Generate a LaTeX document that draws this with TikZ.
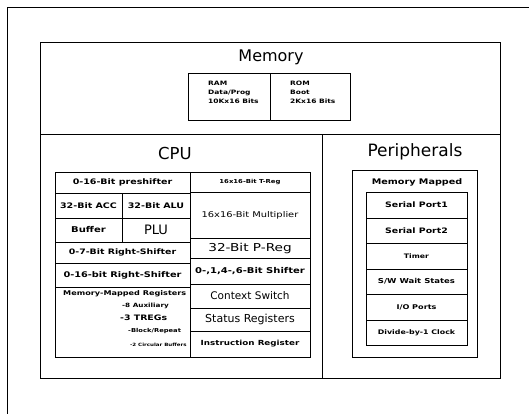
\documentclass[tikz,border=0pt]{standalone}
\usepackage{fontspec}
\setmainfont{DejaVu Sans}
\newfontfamily\plotfont[FakeStretch=1.25]{DejaVu Sans}
\newfontfamily\plainfont{DejaVu Sans}
\tikzset{
  cell/.style={draw, line width=0.9pt, inner sep=0pt, outer sep=0pt},
  bt/.style={font=\plotfont\bfseries\fontsize{#1}{#1}\selectfont, inner sep=0pt},
  rt/.style={font=\plotfont\fontsize{#1}{#1}\selectfont, inner sep=0pt},
  ru/.style={font=\plainfont\fontsize{#1}{#1}\selectfont, inner sep=0pt},
}
\newcommand\bxc[7]{%
  \pgfmathsetmacro\bxw{#4-#2}\pgfmathsetmacro\bxh{#5-#3}%
  \pgfmathsetmacro\bxx{(#2+#4)/2}\pgfmathsetmacro\bxy{(#3+#5)/2}%
  \node[cell, minimum width=\bxw pt, minimum height=\bxh pt, #6] (#1) at (\bxx,\bxy) {#7};}
\begin{document}
\begin{tikzpicture}[x=1pt,y=-1pt]
\useasboundingbox (0,0) rectangle (529,414);
% outer frame
\coordinate (fbl) at (7,414);
\coordinate (ftr) at (529,8);
\draw[line width=1pt] (fbl) |- (ftr);
% main sections
\bxc{mem}{40}{43}{500}{135}{line width=1pt}{}
\bxc{cpu}{40}{135}{322}{378}{line width=1pt}{}
\bxc{per}{322}{135}{500}{378}{line width=1pt}{}
% titles
\node[ru=16, anchor=base] (tmem) at (271,62) {Memory};
\node[ru=16.5, anchor=base] (tcpu) at (175,160) {CPU};
\node[ru=17, anchor=base] (tper) at (415,157) {Peripherals};
% RAM / ROM
\bxc{ram}{188}{73}{270}{120}{}{}
\bxc{rom}{270}{73}{350}{120}{}{}
\node[bt=6, anchor=base west] (ram1) at (208,86) {RAM};
\node[bt=6, anchor=base west] (ram2) at (208,95) {Data/Prog};
\node[bt=6, anchor=base west] (ram3) at (208,103.5) {10Kx16 Bits};
\node[bt=6, anchor=base west] (rom1) at (290,86) {ROM};
\node[bt=6, anchor=base west] (rom2) at (290,95) {Boot};
\node[bt=6, anchor=base west] (rom3) at (290,103.5) {2Kx16 Bits};
% CPU left column
\bxc{pre}{55}{172}{190}{193}{bt=7.6}{0-16-Bit preshifter}
\bxc{acc}{55}{193}{122}{218}{bt=7.6}{32-Bit ACC}
\bxc{alu}{122}{193}{190}{218}{bt=7.6}{32-Bit ALU}
\bxc{buf}{55}{218}{122}{242}{bt=8}{Buffer}
\bxc{plu}{122}{218}{190}{242}{ru=13}{PLU}
\bxc{rsa}{55}{242}{190}{263}{bt=7.5}{0-7-Bit Right-Shifter}
\bxc{rsb}{55}{263}{190}{287}{bt=7.8}{0-16-bit Right-Shifter}
\bxc{mmr}{55}{287}{190}{357}{}{}
\node[bt=6.5, anchor=base west] (mm1) at (63,295) {Memory-Mapped Registers};
\node[bt=5.8, anchor=base west] (mm2) at (122,307) {-8 Auxiliary};
\node[bt=7.5, anchor=base west] (mm3) at (120,320) {-3 TREGs};
\node[bt=5.4, anchor=base west] (mm4) at (128,332) {-Block/Repeat};
\node[bt=4.4, anchor=base west] (mm5) at (130,346) {-2 Circular Buffers};
% CPU right column
\bxc{treg}{190}{172}{310}{192}{bt=5.5}{16x16-Bit T-Reg}
\bxc{mult}{190}{192}{310}{238}{rt=7.9}{16x16-Bit Multiplier}
\bxc{preg}{190}{238}{310}{258}{rt=10.9}{32-Bit P-Reg}
\bxc{shf}{190}{258}{310}{284}{bt=8}{0-,1,4-,6-Bit Shifter}
\bxc{ctx}{190}{284}{310}{308}{ru=10.5}{Context Switch}
\bxc{stat}{190}{308}{310}{331}{ru=11}{Status Registers}
\bxc{inst}{190}{331}{310}{357}{bt=7}{Instruction Register}
% Peripherals
\bxc{pout}{352}{170}{477}{357}{}{}
\node[bt=7.7, anchor=base] (mmap) at (417,184) {Memory Mapped};
\bxc{spa}{366}{192}{467}{218}{bt=7.5}{Serial Port1}
\bxc{spb}{366}{218}{467}{243}{bt=7.5}{Serial Port2}
\bxc{tim}{366}{243}{467}{269}{bt=6.2}{Timer}
\bxc{sws}{366}{269}{467}{294}{bt=6.8}{S/W Wait States}
\bxc{iop}{366}{294}{467}{320}{bt=6.5}{I/O Ports}
\bxc{clk}{366}{320}{467}{345}{bt=6.3}{Divide-by-1 Clock}
\end{tikzpicture}
\end{document}
